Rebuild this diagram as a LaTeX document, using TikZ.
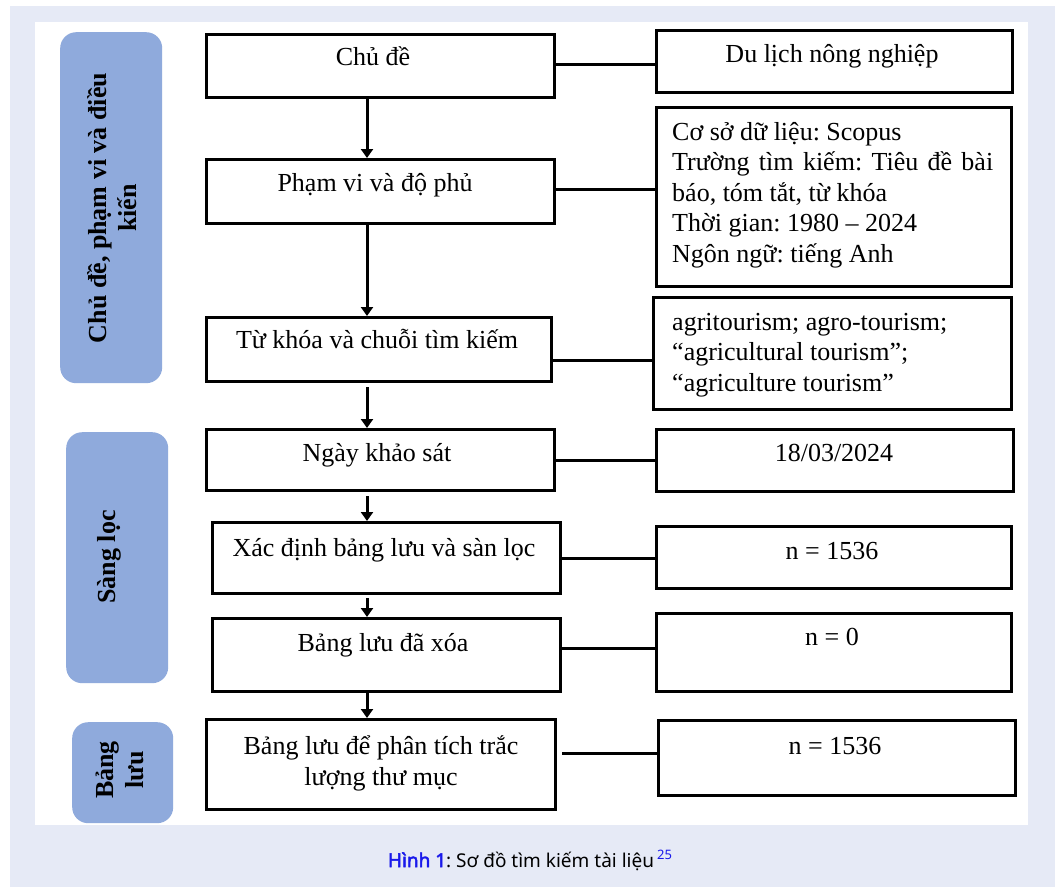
\documentclass[tikz,border=0pt]{standalone}
\usepackage{fontspec}
\setmainfont{Liberation Serif}
\newfontfamily\capfont{Noto Sans}
\newfontfamily\capbold{Noto Sans}[FakeBold=2.5]
\usetikzlibrary{arrows.meta}
\definecolor{pagebg}{RGB}{230,234,246}
\definecolor{sidefill}{RGB}{143,170,220}
\definecolor{capblue}{RGB}{25,25,235}
\frenchspacing
\begin{document}
\begin{tikzpicture}[x=1pt,y=-1pt,
  box/.style={draw=black, line width=3pt, rectangle, inner sep=0pt, anchor=north west},
  side/.style={fill=sidefill, rounded corners=16pt, inner sep=0pt, anchor=north west},
  txt/.style={font=\fontsize{26}{30.5}\selectfont, inner sep=0pt, anchor=base},
  ltxt/.style={font=\fontsize{26}{30.5}\selectfont, inner sep=0pt, anchor=base west, align=left},
  stxt/.style={font=\fontsize{26}{30}\selectfont\bfseries, inner sep=0pt, rotate=90, align=center},
  conn/.style={draw=black, line width=3pt},
  arr/.style={draw=black, line width=3pt, -{Triangle[width=12pt,length=9pt]}}
]
\useasboundingbox (0,0) rectangle (1055,887);
\fill[white] (0,0) rectangle (1055,887);
\fill[pagebg] (10,6) rectangle (1055,887);
\fill[white] (35,22) rectangle (1028,825);

% side panels
\node[side, minimum width=102pt, minimum height=351pt] (s1) at (60,32) {};
\node[side, minimum width=102pt, minimum height=251pt] (s2) at (66,432) {};
\node[side, minimum width=101pt, minimum height=101pt] (s3) at (72,722) {};
\node[stxt] (s1t) at (112,208) {Chủ đề, phạm vi và điều\\kiến};
\node[stxt] (s2t) at (109,557) {Sàng lọc};
\node[stxt] (s3t) at (120,770) {Bảng\\lưu};

% middle boxes
\node[box, minimum width=348pt, minimum height=63pt] (m1) at (205,33) {};
\node[box, minimum width=348pt, minimum height=64pt] (m2) at (205,158) {};
\node[box, minimum width=345pt, minimum height=64pt] (m3) at (205,316) {};
\node[box, minimum width=348pt, minimum height=61pt] (m4) at (205,428) {};
\node[box, minimum width=348pt, minimum height=71pt] (m5) at (211,521) {};
\node[box, minimum width=348pt, minimum height=73pt] (m6) at (211,617) {};
\node[box, minimum width=349pt, minimum height=90pt] (m7) at (205,718) {};

\node[txt] (m1t) at (373,65) {Chủ đề};
\node[txt] (m2t) at (375,191) {Phạm vi và độ phủ};
\node[txt] (m3t) at (377,348) {Từ khóa và chuỗi tìm kiếm};
\node[txt] (m4t) at (377,461) {Ngày khảo sát};
\node[txt] (m5t) at (384,556) {Xác định bảng lưu và sàn lọc};
\node[txt] (m6t) at (383,651) {Bảng lưu đã xóa};
\node[txt, align=center] (m7t) at (381,785) {Bảng lưu để phân tích trắc\\lượng thư mục};

% right boxes
\node[box, minimum width=356pt, minimum height=62pt] (r1) at (655,29) {};
\node[box, minimum width=355pt, minimum height=179pt] (r2) at (655,106) {};
\node[box, minimum width=358pt, minimum height=112pt] (r3) at (652,296) {};
\node[box, minimum width=357pt, minimum height=62pt] (r4) at (655,428) {};
\node[box, minimum width=355pt, minimum height=62pt] (r5) at (655,525) {};
\node[box, minimum width=355pt, minimum height=78pt] (r6) at (655,612) {};
\node[box, minimum width=357pt, minimum height=75pt] (r7) at (657,719) {};

\node[txt] (r1t) at (832,62) {Du lịch nông nghiệp};
\node[ltxt] (r2t) at (672,262) {Cơ sở dữ liệu: Scopus\\\makebox[321pt][s]{Trường tìm kiếm: Tiêu đề bài}\\báo, tóm tắt, từ khóa\\Thời gian: 1980 – 2024\\Ngôn ngữ: tiếng Anh};
\node[ltxt] (r3t) at (672,391) {agritourism; agro-tourism;\\“agricultural tourism”;\\“agriculture tourism”};
\node[txt] (r4t) at (834,461) {18/03/2024};
\node[txt] (r5t) at (832,559) {n = 1536};
\node[txt] (r6t) at (832,645) {n = 0};
\node[txt] (r7t) at (835,754) {n = 1536};

% horizontal connectors
\draw[conn] ([yshift=2pt]m1.east) -- ([yshift=2pt]m1.east -| r1.west);
\draw[conn] ([yshift=2pt]m2.east) -- ([yshift=2pt]m2.east -| r2.west);
\draw[conn] ([yshift=-11pt]m3.east) -- ([yshift=-11pt]m3.east -| r3.west);
\draw[conn] (m4.east) -- (m4.east -| r4.west);
\draw[conn] (m5.east) -- (m5.east -| r5.west);
\draw[conn] ([yshift=7pt]m6.east) -- ([yshift=7pt]m6.east -| r6.west);
\draw[conn, shorten <=5pt] ([yshift=11pt]m7.east) -- ([yshift=11pt]m7.east -| r7.west);

% vertical arrows
\coordinate (ax) at (367,0);
\draw[arr] (m1.south -| ax) -- (m2.north -| ax);
\draw[arr] (m2.south -| ax) -- (m3.north -| ax);
\draw[arr, shorten <=4pt] (m3.south -| ax) -- (m4.north -| ax);
\draw[arr, shorten <=4pt] (m4.south -| ax) -- (m5.north -| ax);
\draw[arr, shorten <=3pt] (m5.south -| ax) -- (m6.north -| ax);
\draw[arr] (m6.south -| ax) -- (m7.north -| ax);

% caption
\node[inner sep=0pt, anchor=base, font=\capfont\fontsize{19}{22}\selectfont] (cap) at (530,867)
  {\textcolor{capblue}{\capbold Hình 1}: Sơ đồ tìm kiếm tài liệu\,\raisebox{8pt}{\fontsize{13}{15}\selectfont\textcolor{capblue}{25}}};
\end{tikzpicture}
\end{document}
